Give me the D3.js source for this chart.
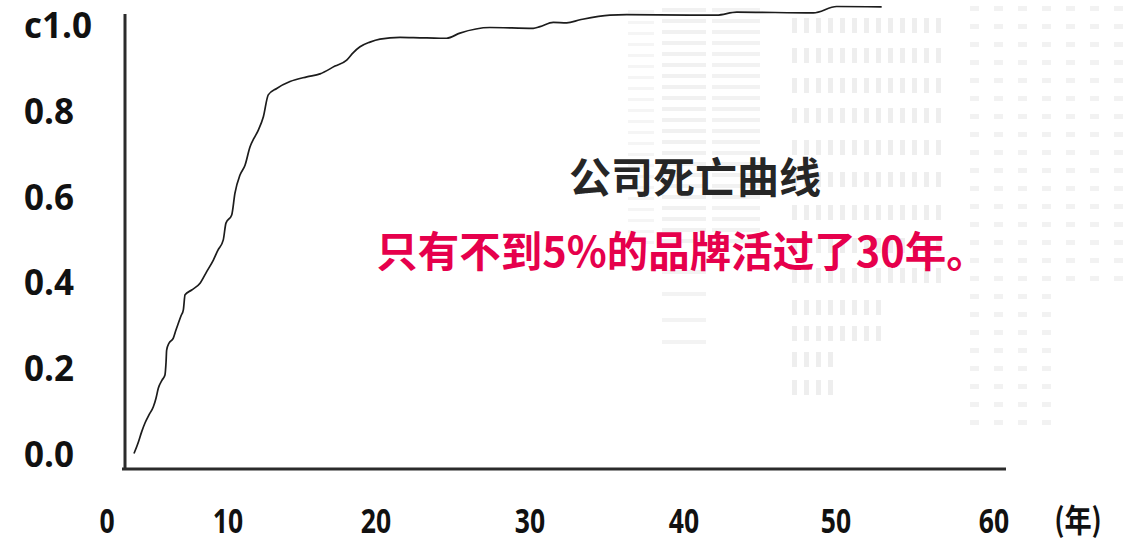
<!DOCTYPE html>
<html>
<head>
<meta charset="utf-8">
<script src="https://cdn.jsdelivr.net/npm/d3@7"></script>
<style>
  html, body { margin: 0; padding: 0; background: #fff; }
  svg { display: block; }
</style>
</head>
<body>
<svg id="chart" width="1138" height="544"></svg>
<script>
// ---- data ----
const years = [2.23, 2.56, 2.87, 3.14, 3.47, 3.83, 4.05, 4.24, 4.55, 4.79, 4.88, 4.93, 5.12, 5.48, 5.70, 5.89, 6.12, 6.31, 6.45, 7.0, 7.69, 8.24, 8.79, 9.17, 9.61, 9.83, 10.25, 10.47, 10.81, 11.15, 11.49, 11.76, 12.05, 12.39, 12.72, 13.29, 14.19, 15.32, 16.22, 17.23, 18.02, 18.45, 18.92, 19.59, 20.26, 21.56, 22.86, 24.16, 24.59, 25.45, 27.40, 30.21, 30.65, 31.51, 32.38, 33.25, 35.19, 36.28, 40.39, 42.15, 43.47, 48.51, 50.04, 52.89];
const deathRate = [0.0, 0.024, 0.051, 0.071, 0.090, 0.109, 0.129, 0.152, 0.171, 0.183, 0.213, 0.241, 0.257, 0.269, 0.288, 0.303, 0.321, 0.335, 0.370, 0.381, 0.397, 0.424, 0.451, 0.474, 0.498, 0.537, 0.556, 0.607, 0.649, 0.672, 0.715, 0.735, 0.754, 0.785, 0.836, 0.851, 0.867, 0.878, 0.885, 0.903, 0.917, 0.934, 0.948, 0.959, 0.966, 0.970, 0.969, 0.968, 0.968, 0.980, 0.993, 0.991, 0.995, 1.005, 1.004, 1.011, 1.022, 1.023, 1.022, 1.022, 1.029, 1.027, 1.042, 1.041];
const xTicks = [0, 10, 20, 30, 40, 50, 60];
const yTicks = [0, 0.2, 0.4, 0.6, 0.8, 1.0];
const yTickLabels = ["0.0", "0.2", "0.4", "0.6", "0.8", "c1.0"];
const xUnit = "(年)";
const title = "公司死亡曲线";
const subtitle = "只有不到5%的品牌活过了30年。";

// ---- scales ----
const x = d3.scaleLinear().domain(xTicks).range([107, 228, 376, 530, 684, 836, 994]);
const y = d3.scaleLinear().domain([0, 1]).range([453.5, 24.5]);

const svg = d3.select("#chart");

// ---- faint building watermark (decorative) ----
const deco = svg.append("g").attr("class", "deco").attr("opacity", 0.5);
for (let r = 0; r < 22; r++) {
  const yy = 8 + r * 11;
  deco.append("rect").attr("x", 662).attr("y", yy).attr("width", 44).attr("height", 4).attr("fill", "#e4e4e4");
  deco.append("rect").attr("x", 712).attr("y", yy).attr("width", 48).attr("height", 4).attr("fill", "#e6e6e6");
  deco.append("rect").attr("x", 628).attr("y", yy + 2).attr("width", 26).attr("height", 3).attr("fill", "#ececec");
}
[270, 292, 318, 340].forEach(yy => {
  deco.append("rect").attr("x", 662).attr("y", yy).attr("width", 44).attr("height", 4).attr("fill", "#e8e8e8");
});
const midRows = [18, 48, 78, 108, 140, 172, 205, 238, 268, 300, 326, 352, 380];
midRows.forEach((yy, i) => {
  const n = i < 9 ? 13 : (i < 11 ? 8 : 4);
  for (let c = 0; c < n; c++) {
    deco.append("rect").attr("x", 792 + c * 12).attr("y", yy).attr("width", 5).attr("height", 15)
      .attr("fill", "#dedede");
  }
});
for (let r = 0; r < 24; r++) {
  const yy = 6 + r * 18;
  const n = r < 16 ? 7 : 4;
  for (let c = 0; c < n; c++) {
    deco.append("rect").attr("x", 970 + c * 24).attr("y", yy).attr("width", 9).attr("height", 5)
      .attr("fill", "#e6e6e6");
  }
}

// ---- axes lines ----
svg.append("line").attr("x1", 125).attr("y1", 14).attr("x2", 125).attr("y2", 470)
  .attr("stroke", "#2b2b2b").attr("stroke-width", 3);
svg.append("line").attr("x1", 122).attr("y1", 469).attr("x2", 1006).attr("y2", 469)
  .attr("stroke", "#2b2b2b").attr("stroke-width", 3);

// ---- y tick labels ----
svg.append("g").selectAll("text").data(yTicks).join("text")
  .attr("x", 24).attr("y", d => y(d))
  .attr("dominant-baseline", "central")
  .attr("font-family", "'Open Sans', 'Noto Sans', sans-serif")
  .attr("font-weight", 700).attr("font-size", 35).attr("fill", "#111")
  .text((d, i) => yTickLabels[i]);

// ---- x tick labels (condensed) ----
svg.append("g").selectAll("text").data(xTicks).join("text")
  .attr("transform", d => `translate(${x(d)},533) scale(0.78,1)`)
  .attr("text-anchor", "middle")
  .attr("font-family", "'Open Sans', sans-serif")
  .attr("font-weight", 700).attr("font-size", 34).attr("fill", "#111")
  .text(d => d);
svg.append("text")
  .attr("transform", "translate(1078,532) scale(0.85,1)")
  .attr("text-anchor", "middle")
  .attr("font-family", "'Noto Sans CJK SC', sans-serif")
  .attr("font-weight", 700).attr("font-size", 32).attr("fill", "#111")
  .text(xUnit);

// ---- curve ----
const pts = years.map((yr, i) => [yr, deathRate[i]]);
svg.append("path").datum(pts)
  .attr("fill", "none").attr("stroke", "#1c1c1c").attr("stroke-width", 1.7)
  .attr("d", d3.line().x(d => x(d[0])).y(d => y(d[1])).curve(d3.curveMonotoneX));

// ---- annotation texts ----
svg.append("text").attr("x", 695).attr("y", 174)
  .attr("text-anchor", "middle").attr("dominant-baseline", "central")
  .attr("font-family", "'Noto Sans CJK SC', sans-serif")
  .attr("font-weight", 700).attr("font-size", 42).attr("fill", "#262626")
  .text(title);
svg.append("text").attr("x", 682).attr("y", 249)
  .attr("text-anchor", "middle").attr("dominant-baseline", "central")
  .attr("font-family", "'Noto Sans CJK SC', sans-serif")
  .attr("font-weight", 700).attr("font-size", 41.5).attr("fill", "#e6004c")
  .text(subtitle);
</script>
</body>
</html>
